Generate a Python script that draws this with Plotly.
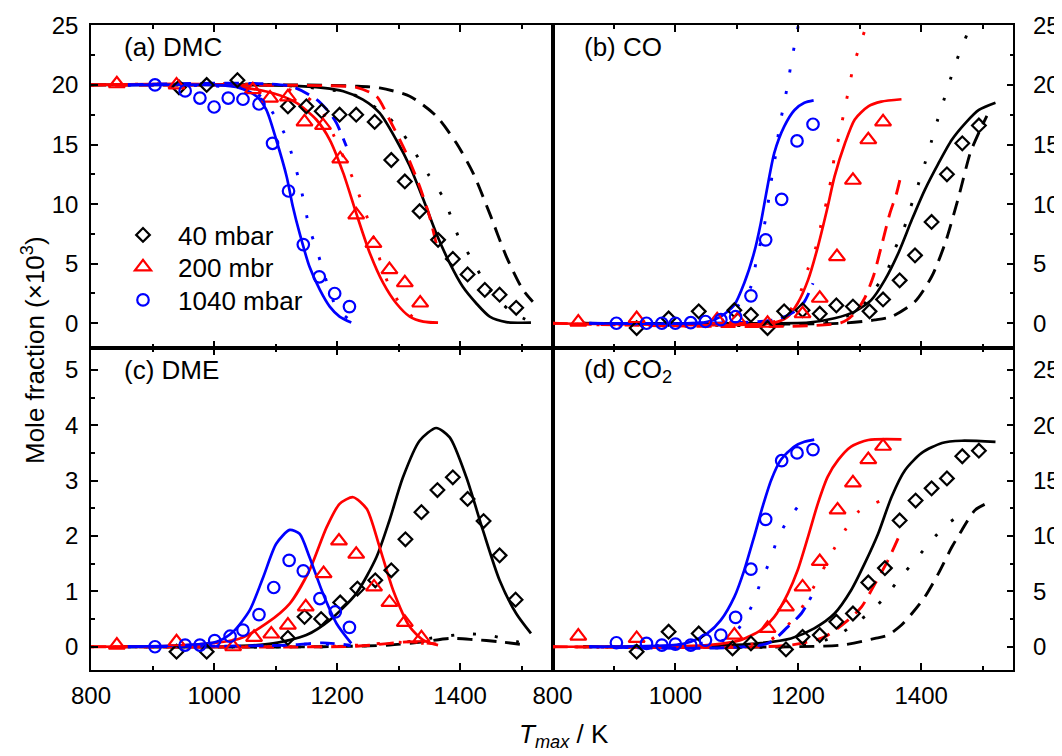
import plotly.graph_objects as go

W, H = 1062, 756

# ---------------- Panel (a) DMC ----------------
a_exp40_T = [943, 988, 1038, 1120, 1150, 1175, 1204, 1231, 1261, 1288, 1310, 1334, 1364, 1388, 1412, 1440, 1464, 1491]
a_exp40_y = [19.8, 20.0, 20.4, 18.2, 18.2, 17.8, 17.5, 17.5, 16.9, 13.7, 11.9, 9.4, 7.0, 5.4, 4.1, 2.8, 2.4, 1.3]
a_exp200_T = [842, 939, 1063, 1091, 1120, 1147, 1177, 1205, 1231, 1259, 1285, 1310, 1335]
a_exp200_y = [20.1, 20.0, 19.6, 18.9, 19.0, 16.9, 16.6, 13.8, 9.1, 6.7, 4.5, 3.4, 1.7]
a_exp1040_T = [904, 953, 977, 1000, 1023, 1047, 1073, 1095, 1121, 1145, 1171, 1196, 1220]
a_exp1040_y = [20.0, 19.5, 18.9, 18.15, 18.9, 18.8, 18.4, 15.1, 11.1, 6.6, 3.9, 2.5, 1.4]

a_sol40_T = [800, 1000, 1123, 1177, 1210, 1242, 1269, 1296, 1318, 1340, 1361, 1383, 1404, 1426, 1448, 1475, 1515]
a_sol40_y = [20, 20, 19.94, 19.75, 19.47, 18.77, 17.65, 15.4, 13.2, 10.4, 7.56, 5.04, 3.08, 1.68, 0.56, 0.1, 0.05]
a_dot40_T = [800, 1100, 1226, 1283, 1307, 1328, 1348, 1374, 1396, 1415, 1448, 1480, 1513]
a_dot40_y = [20, 20, 19.2, 17.3, 15.9, 14.2, 12.5, 10.4, 7.4, 5.7, 2.8, 1.1, 0.14]
a_das40_T = [800, 1134, 1231, 1269, 1318, 1361, 1394, 1421, 1448, 1475, 1502, 1518]
a_das40_y = [20, 20, 19.9, 19.75, 19.05, 17.4, 15.1, 12.6, 9.2, 5.6, 2.8, 1.8]
a_sol200_T = [800, 1015, 1096, 1134, 1166, 1188, 1210, 1231, 1253, 1275, 1296, 1318, 1340, 1364]
a_sol200_y = [20, 20, 19.3, 18.5, 17.1, 15.4, 12.6, 9.24, 5.9, 3.36, 1.68, 0.56, 0.14, 0.05]
a_dot200_T = [800, 1100, 1150, 1177, 1195, 1225, 1256, 1272, 1285, 1303, 1331, 1362]
a_dot200_y = [20, 19.9, 19.0, 17.65, 15.7, 12.2, 7.8, 4.9, 3.1, 1.6, 0.2, 0.05]
a_das200_T = [800, 1177, 1231, 1264, 1285, 1312, 1334, 1350, 1361]
a_das200_y = [20, 19.94, 19.8, 19.05, 17.1, 14.3, 11.5, 9.0, 6.7]
a_sol1040_T = [860, 1000, 1042, 1069, 1085, 1101, 1118, 1128, 1139, 1155, 1172, 1188, 1204, 1223]
a_sol1040_y = [20, 20, 19.75, 19.05, 17.9, 15.4, 12.3, 9.8, 7.56, 4.76, 2.8, 1.4, 0.56, 0.06]
a_dot1040_T = [860, 1060, 1080, 1101, 1118, 1139, 1155, 1166, 1199, 1220]
a_dot1040_y = [20, 19.6, 18.8, 17.2, 15.5, 11.8, 8.0, 6.3, 1.3, 0.3]
a_das1040_T = [860, 1123, 1166, 1188, 1199, 1215]
a_das1040_y = [20, 19.9, 18.8, 17.65, 16.8, 14.85]

# ---------------- Panel (b) CO ----------------
b_exp40_T = [937, 989, 1038, 1096, 1123, 1150, 1177, 1207, 1235, 1262, 1289, 1316, 1338, 1365, 1390, 1417, 1442, 1467, 1494]
b_exp40_y = [-0.4, 0.4, 1.0, 1.1, 0.7, -0.4, 1.0, 1.1, 0.8, 1.5, 1.4, 1.0, 2.0, 3.6, 5.7, 8.5, 12.5, 15.1, 16.6]
b_exp200_T = [842, 937, 1068, 1101, 1150, 1207, 1235, 1263, 1289, 1314, 1338]
b_exp200_y = [0.1, 0.4, 0.3, 0.3, 0.0, 0.8, 2.1, 5.6, 12.0, 15.4, 16.9]
b_exp1040_T = [904, 953, 978, 1000, 1025, 1049, 1074, 1098, 1123, 1147, 1173, 1198, 1224]
b_exp1040_y = [0.0, 0.0, 0.0, 0.0, 0.05, 0.15, 0.3, 0.55, 2.3, 7.0, 10.4, 15.3, 16.7]

b_sol40_T = [850, 1150, 1216, 1259, 1292, 1319, 1341, 1363, 1385, 1406, 1428, 1450, 1472, 1494, 1521]
b_sol40_y = [0, 0, 0.05, 0.42, 0.98, 1.96, 3.64, 5.9, 8.7, 11.2, 13.4, 15.4, 16.8, 17.9, 18.5]
b_dot40_T = [850, 1250, 1300, 1319, 1344, 1357, 1371, 1383, 1395, 1406, 1417, 1427, 1438, 1449, 1461, 1475, 1490]
b_dot40_y = [0, 0.1, 1.2, 2.5, 4.3, 6.2, 7.8, 9.75, 11.6, 13.4, 15.3, 17.1, 18.9, 20.7, 22.5, 24.3, 26.5]
b_das40_T = [850, 1270, 1325, 1352, 1390, 1417, 1439, 1461, 1480, 1494, 1507]
b_das40_y = [0, 0, 0.28, 0.56, 1.82, 3.9, 6.7, 10.6, 14.3, 16.0, 17.4]
b_sol200_T = [800, 1161, 1183, 1199, 1216, 1232, 1248, 1259, 1276, 1292, 1314, 1335, 1368]
b_sol200_y = [0, 0.05, 0.56, 1.68, 3.64, 6.44, 9.8, 12.3, 15.1, 17.1, 18.2, 18.6, 18.8]
b_dot200_T = [800, 1170, 1200, 1216, 1229, 1237, 1246, 1253, 1259, 1267, 1274, 1282, 1289, 1300, 1311, 1320]
b_dot200_y = [0, 0.3, 2.2, 4.6, 6.44, 8.26, 10.2, 12.0, 14.0, 15.8, 17.6, 19.6, 21.4, 23.3, 25.0, 26.5]
b_das200_T = [800, 1270, 1292, 1308, 1322, 1335, 1349, 1360, 1368]
b_das200_y = [0, 0.05, 0.84, 2.1, 3.9, 6.4, 9.2, 10.9, 12.6]
b_sol1040_T = [860, 1050, 1074, 1096, 1112, 1128, 1139, 1150, 1161, 1177, 1194, 1210, 1225]
b_sol1040_y = [0, 0.1, 0.56, 1.54, 3.36, 5.9, 8.4, 11.5, 14.3, 16.5, 17.9, 18.5, 18.7]
b_dot1040_T = [860, 1080, 1101, 1123, 1131, 1147, 1158, 1164, 1169, 1176, 1183, 1189, 1196, 1202]
b_dot1040_y = [0, 0.3, 1.4, 3.08, 5.04, 8.8, 12.6, 14.4, 16.4, 18.2, 20.1, 22.0, 23.9, 25.5]
b_das1040_T = [860, 1161, 1194, 1210, 1224]
b_das1040_y = [0, 0.28, 0.98, 1.82, 3.36]

# ---------------- Panel (c) DME ----------------
c_exp40_T = [939, 988, 1120, 1147, 1174, 1205, 1233, 1262, 1288, 1311, 1337, 1363, 1388, 1412, 1438, 1464, 1490]
c_exp40_y = [-0.09, -0.09, 0.16, 0.54, 0.50, 0.80, 1.05, 1.20, 1.38, 1.94, 2.43, 2.83, 3.06, 2.67, 2.27, 1.65, 0.85]
c_exp200_T = [842, 939, 1031, 1065, 1093, 1120, 1149, 1178, 1203, 1231, 1260, 1285, 1310, 1337]
c_exp200_y = [0.03, 0.09, 0.0, 0.17, 0.23, 0.39, 0.72, 1.32, 1.91, 1.67, 1.08, 0.80, 0.44, 0.16]
c_exp1040_T = [904, 953, 977, 1001, 1026, 1047, 1073, 1097, 1122, 1145, 1172, 1197, 1220]
c_exp1040_y = [0.0, 0.03, 0.03, 0.11, 0.19, 0.30, 0.58, 1.07, 1.56, 1.37, 0.87, 0.63, 0.35]

c_sol40_T = [850, 1015, 1096, 1150, 1188, 1231, 1264, 1285, 1307, 1334, 1361, 1383, 1410, 1437, 1464, 1491, 1515]
c_sol40_y = [0, 0, 0.06, 0.21, 0.48, 0.96, 1.62, 2.28, 3.06, 3.72, 3.95, 3.78, 3.06, 2.10, 1.20, 0.60, 0.24]
c_dot40_T = [850, 1231, 1296, 1350, 1410, 1445, 1482, 1507]
c_dot40_y = [0, 0.01, 0.06, 0.15, 0.23, 0.21, 0.12, 0.05]
c_das40_T = [850, 1177, 1285, 1340, 1383, 1421, 1464, 1507]
c_das40_y = [0, 0, 0.03, 0.09, 0.15, 0.13, 0.09, 0.03]
c_sol200_T = [800, 961, 1042, 1085, 1123, 1155, 1183, 1204, 1226, 1248, 1269, 1291, 1318, 1340, 1364]
c_sol200_y = [0, 0.03, 0.15, 0.42, 0.78, 1.38, 2.16, 2.58, 2.70, 2.49, 1.80, 1.02, 0.36, 0.12, 0.03]
c_dot200_T = [800, 1200, 1260, 1300, 1340, 1364]
c_dot200_y = [0, 0.01, 0.05, 0.08, 0.06, 0.03]
c_das200_T = [800, 1231, 1285, 1318, 1361]
c_das200_y = [0, 0.01, 0.06, 0.09, 0.05]
c_sol1040_T = [860, 1004, 1031, 1058, 1080, 1101, 1123, 1139, 1155, 1177, 1199, 1223]
c_sol1040_y = [0, 0.09, 0.27, 0.66, 1.26, 1.86, 2.11, 2.04, 1.62, 0.96, 0.42, 0.06]
c_dot1040_T = [860, 1100, 1160, 1200, 1223]
c_dot1040_y = [0, 0.02, 0.05, 0.04, 0.02]
c_das1040_T = [860, 1123, 1177, 1220]
c_das1040_y = [0, 0.03, 0.07, 0.03]

# ---------------- Panel (d) CO2 ----------------
d_exp40_T = [937, 989, 1038, 1093, 1123, 1180, 1207, 1235, 1262, 1289, 1314, 1341, 1365, 1391, 1417, 1442, 1467, 1494]
d_exp40_y = [-0.45, 1.36, 1.2, -0.15, 0.3, -0.24, 0.9, 1.05, 2.26, 3.0, 5.8, 7.1, 11.4, 13.2, 14.3, 15.2, 17.2, 17.7]
d_exp200_T = [842, 937, 1096, 1150, 1180, 1207, 1235, 1264, 1289, 1314, 1338]
d_exp200_y = [0.96, 0.75, 1.05, 1.66, 3.6, 5.4, 7.7, 12.35, 14.8, 16.9, 18.1]
d_exp1040_T = [904, 953, 978, 1000, 1025, 1049, 1074, 1098, 1123, 1147, 1173, 1198, 1224]
d_exp1040_y = [0.36, 0.3, 0.15, 0.24, 0.15, 0.6, 1.05, 2.65, 7.0, 11.5, 16.8, 17.5, 17.8]

d_sol40_T = [850, 1052, 1134, 1188, 1226, 1259, 1286, 1308, 1330, 1352, 1374, 1401, 1434, 1466, 1521]
d_sol40_y = [0, 0.06, 0.3, 0.75, 1.66, 3.0, 5.1, 7.5, 10.2, 13.55, 15.96, 17.5, 18.4, 18.6, 18.5]
d_dot40_T = [850, 1200, 1260, 1289, 1318, 1344, 1367, 1393, 1417, 1442, 1476]
d_dot40_y = [0, 0.1, 0.9, 1.96, 3.16, 4.67, 6.3, 8.0, 9.6, 11.05, 12.35]
d_das40_T = [850, 1270, 1325, 1346, 1368, 1385, 1406, 1428, 1450, 1466, 1488, 1513]
d_das40_y = [0, 0.15, 0.75, 1.05, 1.96, 3.0, 4.5, 6.6, 9.0, 10.5, 12.35, 13.1]
d_sol200_T = [800, 1052, 1106, 1139, 1161, 1183, 1199, 1216, 1232, 1248, 1265, 1286, 1314, 1368]
d_sol200_y = [0, 0.15, 0.6, 1.5, 2.7, 4.8, 6.9, 9.94, 12.95, 15.36, 16.87, 18.07, 18.67, 18.73]
d_dot200_T = [800, 1150, 1183, 1205, 1224, 1259, 1277, 1298, 1335]
d_dot200_y = [0, 0.5, 1.96, 3.46, 5.27, 8.9, 10.6, 12.2, 13.2]
d_das200_T = [800, 1188, 1243, 1281, 1303, 1325, 1346, 1365]
d_das200_y = [0, 0.15, 0.9, 2.4, 3.6, 5.7, 7.8, 10.1]
d_sol1040_T = [860, 997, 1025, 1052, 1074, 1096, 1112, 1128, 1142, 1156, 1172, 1194, 1210, 1226]
d_sol1040_y = [0, 0.15, 0.45, 1.2, 2.4, 4.5, 6.9, 9.9, 12.65, 15.06, 16.9, 18.1, 18.5, 18.7]
d_dot1040_T = [860, 1080, 1101, 1126, 1139, 1154, 1166, 1183, 1206]
d_dot1040_y = [0, 0.6, 1.5, 3.86, 5.87, 7.77, 9.7, 11.45, 13.1]
d_das1040_T = [860, 1150, 1183, 1205, 1221]
d_das1040_y = [0, 0.3, 1.8, 3.0, 4.5]

legend_names = ["40 mbar", "200 mbr", "1040 mbar"]
panel_labels = ["(a) DMC", "(b) CO", "(c) DME", "(d) CO<sub>2</sub>"]
x_tick_vals = [800, 1000, 1200, 1400]
x_title = "<i>T</i><sub><i>max</i></sub> / K"
y_title = "Mole fraction (×10<sup>3</sup>)"

# ---------------- styling ----------------
COL = {"40": "black", "200": "#ff0000", "1040": "#0000ff"}
SYM = {"40": "diamond-open", "200": "triangle-up-open", "1040": "circle-open"}
MSIZE = {"40": 10.5, "200": 14, "1040": 11.5}
DASH = {"sol": "solid", "dot": "3px,19px", "das": "15px,9px"}
LEG = {"40": "legend", "200": "legend2", "1040": "legend3"}
FONT = "Liberation Sans, Arial, sans-serif"

fig = go.Figure()
G = globals()
axes = {"a": ("x", "y"), "b": ("x2", "y2"), "c": ("x3", "y3"), "d": ("x4", "y4")}

for p, (xa, ya) in axes.items():
    for pr in ["40", "200", "1040"]:
        for st in ["das", "dot", "sol"]:
            T = G[f"{p}_{st}{pr}_T"]
            Y = G[f"{p}_{st}{pr}_y"]
            fig.add_trace(go.Scatter(
                x=T, y=Y, mode="lines", xaxis=xa, yaxis=ya, showlegend=False,
                line=dict(color=COL[pr], width=2.9 if st != "sol" else 2.7,
                          dash=DASH[st], shape="spline", smoothing=0.7),
                hoverinfo="skip"))
    for i, pr in enumerate(["40", "200", "1040"]):
        fig.add_trace(go.Scatter(
            x=G[f"{p}_exp{pr}_T"], y=G[f"{p}_exp{pr}_y"], mode="markers",
            xaxis=xa, yaxis=ya, name=legend_names[i], showlegend=(p == "a"),
            legend=LEG[pr],
            marker=dict(symbol=SYM[pr], size=MSIZE[pr], color=COL[pr],
                        line=dict(color=COL[pr], width=2.2))))

# ---------------- layout geometry (window pixels; page body has an 8px margin) ----------------
OFF = 8
xL, xM, xR = 91, 552.5, 1013.3
yT, yM, yB = 25, 347.7, 670

def fx(px):
    return (px - OFF) / W

def fy(py):
    return 1 - (py - OFF) / H

xbase = dict(range=[800, 1550], tickvals=x_tick_vals, ticks="inside", ticklen=7, tickwidth=1.5,
             tickcolor="black", minor=dict(dtick=100, tick0=800, ticks="inside", ticklen=4,
                                           tickwidth=1.5, tickcolor="black"),
             showline=True, linewidth=1.6, linecolor="black", mirror="ticks", automargin=False,
             showgrid=False, zeroline=False, tickfont=dict(family=FONT, size=24, color="black"),
             ticklabelstandoff=3)
ybase = dict(ticks="inside", ticklen=7, tickwidth=1.5, tickcolor="black", automargin=False,
             showline=True, linewidth=1.6, linecolor="black", mirror=True,
             showgrid=False, zeroline=False, tickfont=dict(family=FONT, size=24, color="black"))

def legbox(py):
    return dict(x=fx(108), y=fy(py), xanchor="left", yanchor="middle",
                font=dict(family=FONT, size=26, color="black"), bgcolor="rgba(0,0,0,0)",
                itemwidth=60)

layout = dict(
    width=W, height=H, margin=dict(l=0, r=0, t=0, b=0, pad=0, autoexpand=False),
    paper_bgcolor="white", plot_bgcolor="white", showlegend=True,
    xaxis=dict(xbase, domain=[fx(xL), fx(xM)], anchor="y", showticklabels=False),
    xaxis2=dict(xbase, domain=[fx(xM), fx(xR)], anchor="y2", showticklabels=False),
    xaxis3=dict(xbase, domain=[fx(xL), fx(xM)], anchor="y3"),
    xaxis4=dict(xbase, domain=[fx(xM), fx(xR)], anchor="y4"),
    yaxis=dict(ybase, domain=[fy(yM), fy(yT)], anchor="x", range=[-2.05, 25.03],
               tickvals=[0, 5, 10, 15, 20, 25],
               minor=dict(dtick=2.5, tick0=0, ticks="inside", ticklen=4, tickwidth=1.5, tickcolor="black"),
               ticklabelstandoff=6),
    yaxis2=dict(ybase, domain=[fy(yM), fy(yT)], anchor="x2", range=[-2.05, 25.03], side="right",
                tickvals=[0, 5, 10, 15, 20, 25],
                minor=dict(dtick=2.5, tick0=0, ticks="inside", ticklen=4, tickwidth=1.5, tickcolor="black"),
                ticklabelstandoff=13),
    yaxis3=dict(ybase, domain=[fy(yB), fy(yM)], anchor="x3", range=[-0.42, 5.40],
                tickvals=[0, 1, 2, 3, 4, 5],
                minor=dict(dtick=0.5, tick0=0, ticks="inside", ticklen=4, tickwidth=1.5, tickcolor="black"),
                ticklabelstandoff=6),
    yaxis4=dict(ybase, domain=[fy(yB), fy(yM)], anchor="x4", range=[-2.1, 27.0], side="right",
                tickvals=[0, 5, 10, 15, 20, 25],
                minor=dict(dtick=2.5, tick0=0, ticks="inside", ticklen=4, tickwidth=1.5, tickcolor="black"),
                ticklabelstandoff=13),
    legend=legbox(235),
    legend2=legbox(267),
    legend3=legbox(300),
)
fig.update_layout(**layout)

ann = []
for lbl, (px, py) in zip(panel_labels, [(122, 47), (582, 47), (122, 370), (582, 370)]):
    ann.append(dict(text=lbl, x=fx(px), y=fy(py), xref="paper", yref="paper",
                    xanchor="left", yanchor="middle", showarrow=False,
                    font=dict(family=FONT, size=26, color="black")))
ann.append(dict(text=x_title, x=fx(564), y=fy(735), xref="paper", yref="paper",
                xanchor="center", yanchor="middle", showarrow=False,
                font=dict(family=FONT, size=26, color="black")))
ann.append(dict(text=y_title, x=fx(34), y=fy(350), xref="paper", yref="paper",
                xanchor="center", yanchor="middle", showarrow=False, textangle=-90,
                font=dict(family=FONT, size=26, color="black")))
fig.update_layout(annotations=ann)

fig.write_html("out.html")
